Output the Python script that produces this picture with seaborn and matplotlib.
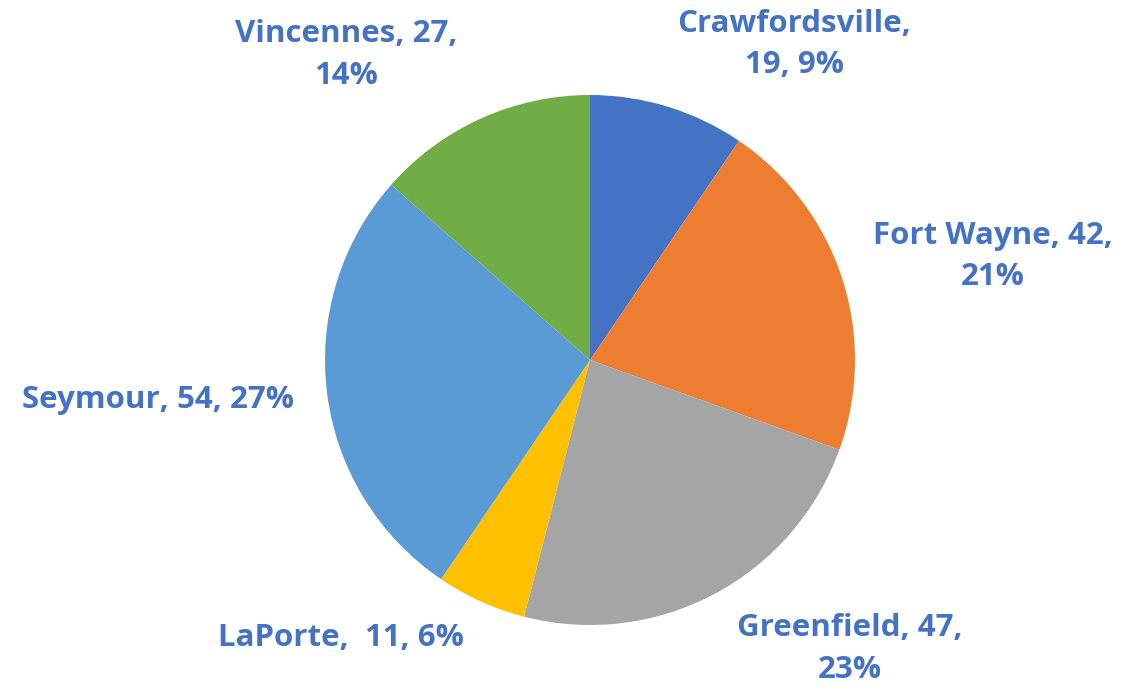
import matplotlib
matplotlib.use("Agg")
import matplotlib.pyplot as plt
import seaborn as sns
import numpy as np

# Data
cities = ["Crawfordsville", "Fort Wayne", "Greenfield", "LaPorte", "Seymour", "Vincennes"]
counts = [19, 42, 47, 11, 54, 27]
colors = ["#4472C4", "#ED7D31", "#A5A5A5", "#FFC000", "#5B9BD5", "#70AD47"]
label_texts = ["Crawfordsville,\n19, 9%", "Fort Wayne, 42,\n21%", "Greenfield, 47,\n23%",
               "LaPorte,  11, 6%", "Seymour, 54, 27%", "Vincennes, 27,\n14%"]

# label anchor points (pie units, radius = 1)
label_pos = [(0.77, 1.19), (1.52, 0.39), (0.98, -1.09),
             (-0.94, -1.05), (-1.63, -0.15), (-0.92, 1.15)]

sns.set_theme(style="white")
plt.rcParams['font.family'] = ['Open Sans', 'DejaVu Sans']

fig = plt.figure(figsize=(11.23, 6.95), dpi=100)
ax = fig.add_axes([0, 0, 1, 1])

ax.pie(counts, colors=colors, startangle=90, counterclock=False,
       radius=1, center=(0, 0), frame=True,
       wedgeprops={"linewidth": 0, "edgecolor": "none"})

for txt, (x, y) in zip(label_texts, label_pos):
    ax.text(x, y, txt, ha="center", va="center", fontsize=22.5,
            fontweight="bold", color="#4472C4", linespacing=1.5)

ax.set_xlim(-590 / 265, (1123 - 590) / 265)
ax.set_ylim(-(695 - 360) / 265, 360 / 265)
ax.set_aspect("auto")
ax.axis("off")

fig.savefig("out.png", dpi=100)
